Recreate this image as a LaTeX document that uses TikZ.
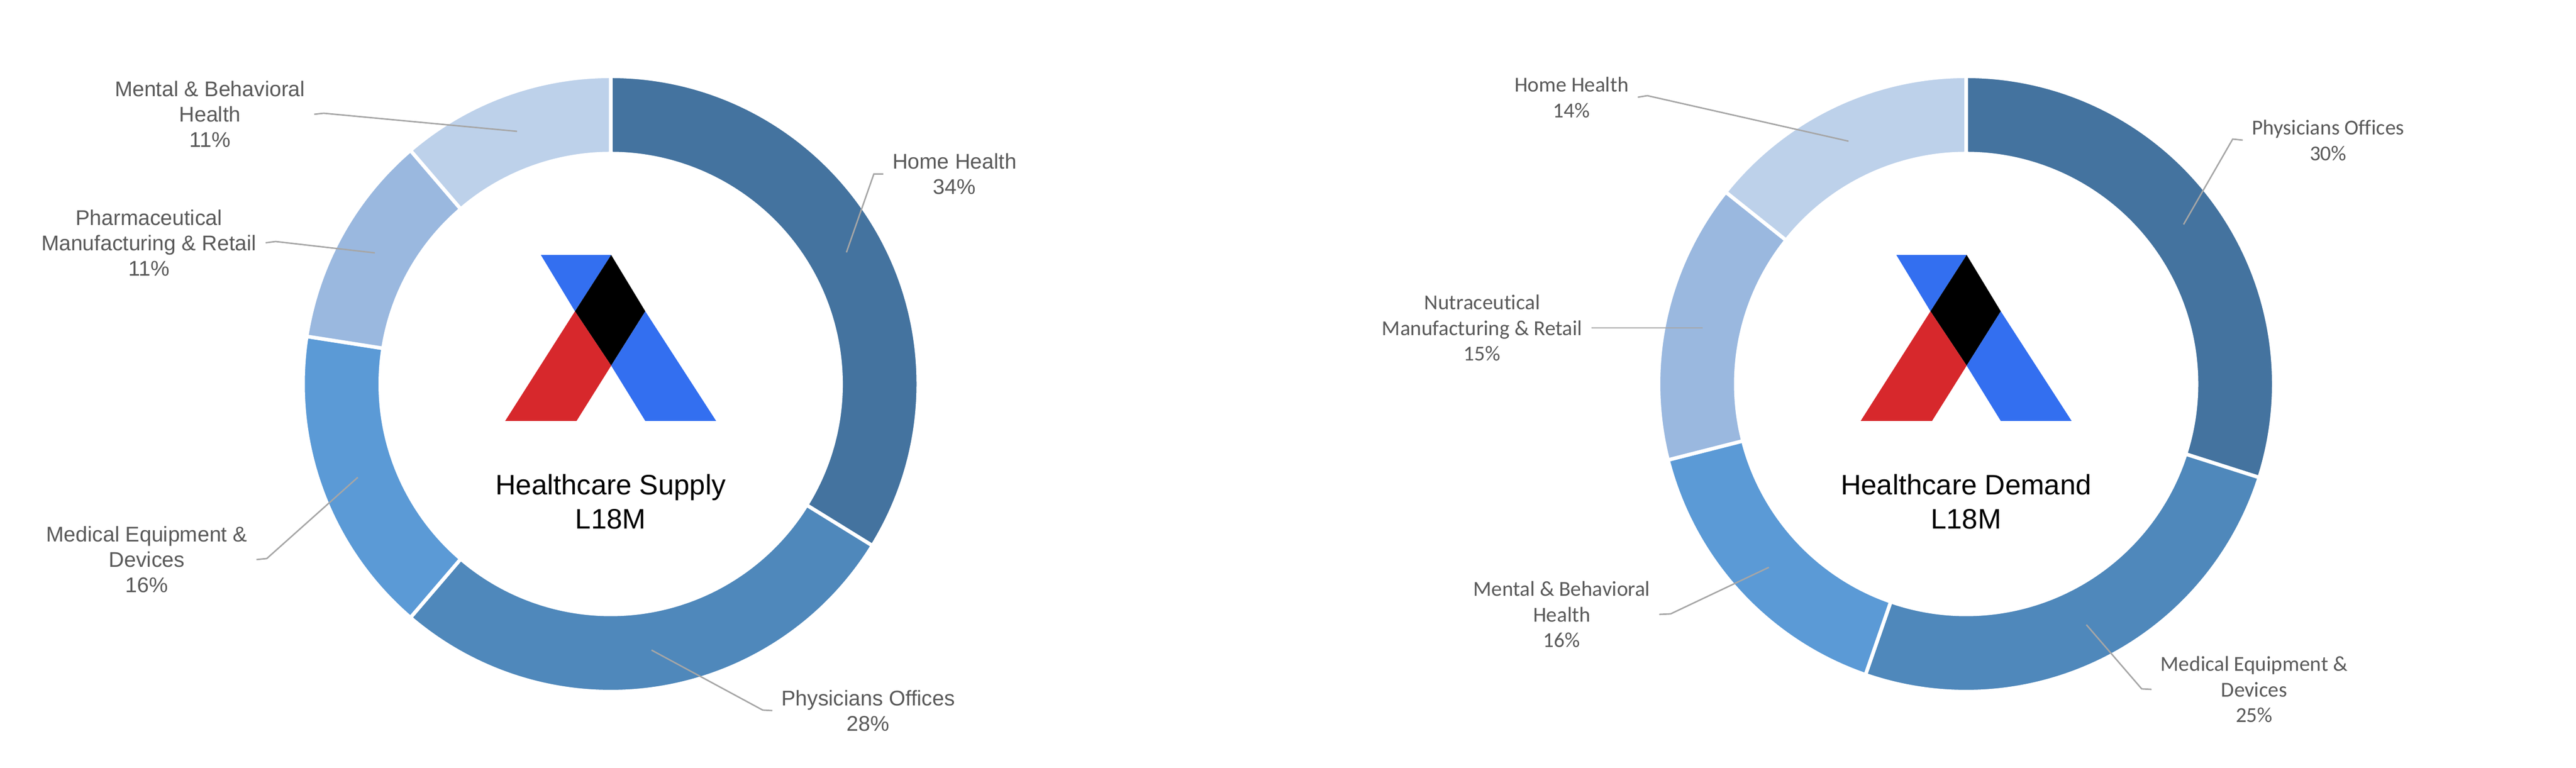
\documentclass[tikz,border=0pt]{standalone}
\usepackage{fontspec}
\usepackage{xcolor}
\setmainfont[Ligatures=NoCommon]{Liberation Sans}
\newfontfamily\calfont[Ligatures=NoCommon]{Carlito}
\usetikzlibrary{positioning}
\definecolor{ringa}{HTML}{44739F}
\definecolor{ringb}{HTML}{4F88BB}
\definecolor{ringc}{HTML}{5B9AD6}
\definecolor{ringd}{HTML}{9AB8DF}
\definecolor{ringe}{HTML}{BDD1EA}
\definecolor{logoblue}{HTML}{336FF0}
\definecolor{logored}{HTML}{D7282C}
\definecolor{labeltext}{HTML}{595959}
\definecolor{leaderline}{HTML}{A6A6A6}

\begin{document}
\begin{tikzpicture}
        \tikzstyle{seg}=[draw=white,line width=0.7mm]
        \tikzstyle{share}=[align=center,text=labeltext,inner sep=1.7mm,font=\fontsize{11.7}{14}\selectfont]
        \tikzstyle{sharecal}=[align=center,text=labeltext,inner sep=1.7mm,font=\calfont\fontsize{11.7}{14.2}\selectfont]
        \tikzstyle{title}=[align=center,text=black,inner sep=0mm,font=\fontsize{15.5}{19}\selectfont]
        \tikzstyle{leader}=[draw=leaderline,line width=0.28mm]
        \useasboundingbox (0,0) rectangle (49.82,14.85);
       % supply ring
       \begin{scope}[shift={(11.81,7.425)}]
         \path[seg,fill=ringa] (90:5.95) arc (90:-31.7:5.95) -- (-31.7:4.455) arc (-31.7:90:4.455) -- cycle;
         \path[seg,fill=ringb] (-31.7:5.95) arc (-31.7:-130.6:5.95) -- (-130.6:4.455) arc (-130.6:-31.7:4.455) -- cycle;
         \path[seg,fill=ringc] (-130.6:5.95) arc (-130.6:-188.9:5.95) -- (-188.9:4.455) arc (-188.9:-130.6:4.455) -- cycle;
         \path[seg,fill=ringd] (-188.9:5.95) arc (-188.9:-229.4:5.95) -- (-229.4:4.455) arc (-229.4:-188.9:4.455) -- cycle;
         \path[seg,fill=ringe] (-229.4:5.95) arc (-229.4:-270:5.95) -- (-270:4.455) arc (-270:-229.4:4.455) -- cycle;
         % logo
         \fill[logoblue] (-1.35,2.495) -- (.01,2.495) -- (-.69,1.405) -- cycle;
         \fill[black] (.01,2.495) -- (.67,1.405) -- (.01,.355) -- (-.69,1.405) -- cycle;
         \fill[logored] (-.69,1.405) -- (.01,.355) -- (-.66,-.715) -- (-2.04,-.715) -- cycle;
         \fill[logoblue] (.67,1.405) -- (2.04,-.715) -- (.67,-.715) -- (.01,.355) -- cycle;
         \node [title] (supplytitle) at (0,-2.275) {Healthcare Supply\\L18M};
         \node [share] (s1) at (6.65,4.06) {Home Health\\34\%};
         \node [share] (s2) at (4.98,-6.315) {Physicians Offices\\28\%};
         \node [share] (s3) at (-8.97,-3.395) {Medical Equipment \&\\Devices\\16\%};
         \node [share] (s4) at (-8.93,2.73) {Pharmaceutical\\Manufacturing \& Retail\\11\%};
         \node [share] (s5) at (-7.75,5.215) {Mental \& Behavioral\\Health\\11\%};
         \coordinate (s1bend) at (5.09,4.06);
         \coordinate (s1end) at (4.56,2.545);
         \coordinate (s2bend) at (2.94,-6.305);
         \coordinate (s2end) at (.79,-5.145);
         \coordinate (s3bend) at (-6.65,-3.375);
         \coordinate (s3end) at (-4.89,-1.805);
         \coordinate (s4bend) at (-6.48,2.755);
         \coordinate (s4end) at (-4.56,2.535);
         \coordinate (s5bend) at (-5.55,5.235);
         \coordinate (s5end) at (-1.81,4.885);
         \path[leader] (s1.west) -- (s1bend) -- (s1end);
         \path[leader] (s2.west) -- (s2bend) -- (s2end);
         \path[leader] (s3.east) -- (s3bend) -- (s3end);
         \path[leader] (s4.east) -- (s4bend) -- (s4end);
         \path[leader] (s5.east) -- (s5bend) -- (s5end);
        \end{scope}
       % demand ring
       \begin{scope}[shift={(38.025,7.425)}]
         \path[seg,fill=ringa] (90:5.95) arc (90:-17.7:5.95) -- (-17.7:4.455) arc (-17.7:90:4.455) -- cycle;
         \path[seg,fill=ringb] (-17.7:5.95) arc (-17.7:-109.1:5.95) -- (-109.1:4.455) arc (-109.1:-17.7:4.455) -- cycle;
         \path[seg,fill=ringc] (-109.1:5.95) arc (-109.1:-165.7:5.95) -- (-165.7:4.455) arc (-165.7:-109.1:4.455) -- cycle;
         \path[seg,fill=ringd] (-165.7:5.95) arc (-165.7:-218.6:5.95) -- (-218.6:4.455) arc (-218.6:-165.7:4.455) -- cycle;
         \path[seg,fill=ringe] (-218.6:5.95) arc (-218.6:-270:5.95) -- (-270:4.455) arc (-270:-218.6:4.455) -- cycle;
         % logo
         \fill[logoblue] (-1.35,2.495) -- (.01,2.495) -- (-.69,1.405) -- cycle;
         \fill[black] (.01,2.495) -- (.67,1.405) -- (.01,.355) -- (-.69,1.405) -- cycle;
         \fill[logored] (-.69,1.405) -- (.01,.355) -- (-.66,-.715) -- (-2.04,-.715) -- cycle;
         \fill[logoblue] (.67,1.405) -- (2.04,-.715) -- (.67,-.715) -- (.01,.355) -- cycle;
         \node [title] (demandtitle) at (0,-2.275) {Healthcare Demand\\L18M};
         \node [sharecal] (d1) at (7.00,4.715) {Physicians Offices\\30\%};
         \node [sharecal] (d2) at (5.57,-5.905) {Medical Equipment \&\\Devices\\25\%};
         \node [sharecal] (d3) at (-7.82,-4.455) {Mental \& Behavioral\\Health\\16\%};
         \node [sharecal] (d4) at (-9.36,1.085) {Nutraceutical\\Manufacturing \& Retail\\15\%};
         \node [sharecal] (d5) at (-7.63,5.545) {Home Health\\14\%};
         \coordinate (d1bend) at (5.155,4.735);
         \coordinate (d1end) at (4.205,3.085);
         \coordinate (d2bend) at (3.395,-5.895);
         \coordinate (d2end) at (2.325,-4.655);
         \coordinate (d3bend) at (-5.715,-4.445);
         \coordinate (d3end) at (-3.815,-3.545);
         \coordinate (d4end) at (-5.095,1.085);
         \coordinate (d5bend) at (-6.165,5.575);
         \coordinate (d5end) at (-2.275,4.695);
         \path[leader] (d1.west) -- (d1bend) -- (d1end);
         \path[leader] (d2.west) -- (d2bend) -- (d2end);
         \path[leader] (d3.east) -- (d3bend) -- (d3end);
         \path[leader] (d4.east) -- (d4end);
         \path[leader] (d5.east) -- (d5bend) -- (d5end);
        \end{scope}
\end{tikzpicture}
\end{document}
